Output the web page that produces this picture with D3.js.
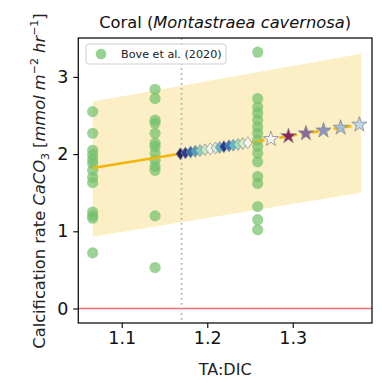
<!DOCTYPE html>
<html><head><meta charset="utf-8">
<script src="https://cdn.jsdelivr.net/npm/d3@7"></script>
<style>html,body{margin:0;padding:0;background:#fff}svg{display:block}text{font-family:"DejaVu Sans",sans-serif}</style>
</head><body><svg id="c" width="382" height="383"></svg>
<script>
// ---- data ----
const xTicks = [1.1, 1.2, 1.3];
const yTicks = [0, 1, 2, 3];
const boveX = [1.066, 1.139, 1.259];
const boveY1 = [2.55, 2.27, 2.05, 1.99, 1.93, 1.88, 1.79, 1.7, 1.63, 1.25, 1.2, 1.17, 0.72];
const boveY2 = [2.84, 2.72, 2.44, 2.4, 2.27, 2.14, 2.1, 2.01, 1.92, 1.84, 1.79, 1.2, 0.53];
const boveY3 = [3.32, 2.72, 2.61, 2.53, 2.44, 2.35, 2.27, 2.18, 2.1, 2.01, 1.9, 1.71, 1.62, 1.32, 1.15, 1.02];
const fitX = [1.066, 1.17, 1.38];
const fitY = [1.82, 2.007, 2.385];
const bandX = [1.066, 1.38];
const bandLo = [0.93, 1.5];
const bandHi = [2.68, 3.3];
const thresholdX = 1.17;
const diamondX = [1.1685, 1.1745, 1.1805, 1.186, 1.1915, 1.1975, 1.2035, 1.2095, 1.2145, 1.2195, 1.2255, 1.2305, 1.236, 1.2415, 1.2475];
const diamondColors = ["#25236a", "#2b3b8e", "#3a6aaa", "#4f9cc0", "#8ccfc0", "#c8e8c0", "#f2f8ee", "#d6eed4", "#60b8c8", "#263890", "#3a78b6", "#58bccc", "#a8dac0", "#d2eac6", "#f4f6ee"];
const starX = [1.2744, 1.295, 1.3154, 1.336, 1.356, 1.378];
const starColors = ["#f4f6f4", "#8a2560", "#8a6a9a", "#9094c2", "#a6bed6", "#bdd8e8"];

// ---- layout ----
const L = 78.3, R = 372, T = 38, B = 323;
const x = d3.scaleLinear().domain([1.0492, 1.3927]).range([L, R]);
const y = d3.scaleLinear().domain([-0.188, 3.504]).range([B, T]);
const fitLine = d3.scaleLinear().domain(fitX).range(fitY);
const svg = d3.select("#c");

// band
const bandData = bandX.map((v, i) => ({x: v, lo: bandLo[i], hi: bandHi[i]}));
svg.append("path").datum(bandData)
  .attr("d", d3.area().x(d => x(d.x)).y0(d => y(d.lo)).y1(d => y(d.hi)))
  .attr("fill", "#fcefc6");

// zero line
svg.append("line").attr("x1", L).attr("x2", R).attr("y1", y(0)).attr("y2", y(0))
  .attr("stroke", "#e07070").attr("stroke-width", 1.6);

// threshold dotted line
svg.append("line").attr("x1", x(thresholdX)).attr("x2", x(thresholdX)).attr("y1", T).attr("y2", B)
  .attr("stroke", "#b4b4b4").attr("stroke-width", 1.8).attr("stroke-dasharray", "1.8,3.2");

// Bove points
const pts = [];
[boveY1, boveY2, boveY3].forEach((arr, i) => arr.forEach(v => pts.push({x: boveX[i], y: v})));
svg.append("g").selectAll("circle").data(pts).join("circle")
  .attr("cx", d => x(d.x)).attr("cy", d => y(d.y)).attr("r", 5.6)
  .attr("fill", "#72c16a").attr("fill-opacity", 0.7);

// fit line: solid then dashed
svg.append("line").attr("x1", x(fitX[0])).attr("y1", y(fitY[0])).attr("x2", x(fitX[1])).attr("y2", y(fitY[1]))
  .attr("stroke", "#f2b50c").attr("stroke-width", 2.6);
svg.append("line").attr("x1", x(fitX[1])).attr("y1", y(fitY[1])).attr("x2", x(fitX[2])).attr("y2", y(fitY[2]))
  .attr("stroke", "#f2b50c").attr("stroke-width", 2.6).attr("stroke-dasharray", "7,4");

// diamonds
svg.append("g").selectAll("path").data(diamondX).join("path")
  .attr("transform", d => `translate(${x(d)},${y(fitLine(d))})`)
  .attr("d", "M0,-6L4.3,0L0,6L-4.3,0Z")
  .attr("fill", (d, i) => diamondColors[i]).attr("stroke", "#8a8a8a").attr("stroke-width", 0.7);

// stars
const star = d3.symbol().type(d3.symbolStar).size(72);
svg.append("g").selectAll("path").data(starX).join("path")
  .attr("transform", d => `translate(${x(d)},${y(fitLine(d))})`)
  .attr("d", star)
  .attr("fill", (d, i) => starColors[i]).attr("stroke", "#8a8a8a").attr("stroke-width", 0.8);

// frame
svg.append("rect").attr("x", L).attr("y", T).attr("width", R - L).attr("height", B - T)
  .attr("fill", "none").attr("stroke", "#111").attr("stroke-width", 1.3);

// axes
const xAxis = svg.append("g").attr("transform", `translate(0,${B})`)
  .call(d3.axisBottom(x).tickValues(xTicks).tickFormat(d3.format(".1f")).tickSize(5).tickPadding(4));
const yAxis = svg.append("g").attr("transform", `translate(${L},0)`)
  .call(d3.axisLeft(y).tickValues(yTicks).tickFormat(d3.format("d")).tickSize(5).tickPadding(5));
[xAxis, yAxis].forEach(g => {
  g.select(".domain").remove();
  g.selectAll(".tick line").attr("stroke", "#111").attr("stroke-width", 1.2);
  g.selectAll(".tick text").attr("fill", "#111").style("font-size", "17.5px").style("font-family", "DejaVu Sans");
});

// title
const title = svg.append("text").attr("x", (L + R) / 2).attr("y", 28).attr("text-anchor", "middle")
  .style("font-size", "16.3px").attr("fill", "#111");
title.append("tspan").text("Coral (");
title.append("tspan").attr("font-style", "italic").text("Montastraea cavernosa");
title.append("tspan").text(")");

// x label
svg.append("text").attr("x", (L + R) / 2).attr("y", 375).attr("text-anchor", "middle")
  .style("font-size", "16px").attr("fill", "#222").text("TA:DIC");

// y label
const yl = svg.append("text").attr("transform", `translate(45,${181}) rotate(-90)`).attr("text-anchor", "middle")
  .style("font-size", "16.3px").attr("fill", "#222");
yl.append("tspan").text("Calcification rate ");
yl.append("tspan").attr("font-style", "italic").text("CaCO");
yl.append("tspan").attr("dy", 3.5).style("font-size", "11px").text("3");
yl.append("tspan").attr("dy", -3.5).text(" [");
yl.append("tspan").attr("font-style", "italic").text("mmol m");
yl.append("tspan").attr("dy", -7).style("font-size", "11px").text("−2");
yl.append("tspan").attr("dy", 7).attr("font-style", "italic").text(" hr");
yl.append("tspan").attr("dy", -7).style("font-size", "11px").text("−1");
yl.append("tspan").attr("dy", 7).text("]");

// legend
const lg = svg.append("g");
lg.append("rect").attr("x", 86).attr("y", 44).attr("width", 140).attr("height", 20).attr("rx", 3)
  .attr("fill", "#fff").attr("fill-opacity", 0.85).attr("stroke", "#d0d0d0").attr("stroke-width", 1);
lg.append("circle").attr("cx", 101).attr("cy", 54).attr("r", 5.3).attr("fill", "#72c16a").attr("fill-opacity", 0.75);
lg.append("text").attr("x", 121).attr("y", 58).style("font-size", "11.2px").attr("fill", "#222").text("Bove et al. (2020)");
</script></body></html>
